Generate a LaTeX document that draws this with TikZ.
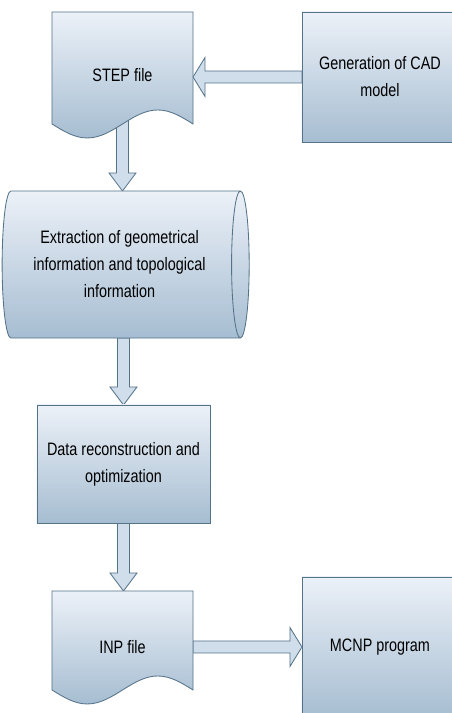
\documentclass[tikz,border=0pt]{standalone}
\usepackage{fontspec}
\setmainfont{Liberation Sans}[FakeStretch=0.8]
\usetikzlibrary{shapes.geometric}
\usetikzlibrary{calc}
\usetikzlibrary{backgrounds}
\definecolor{boxtop}{RGB}{236,241,248}
\definecolor{boxbottom}{RGB}{166,189,209}
\definecolor{boxline}{RGB}{84,114,136}
\definecolor{arrowfill}{RGB}{208,222,235}

% hollow block arrows: from #1 down to #2
\newcommand{\downflow}[2]{%
  \draw[flowarrow] ($(#1)+(-6,0)$) -- ($(#2)+(-6,18)$) -- ($(#2)+(-13.5,18)$) -- (#2)
    -- ($(#2)+(13.5,18)$) -- ($(#2)+(6,18)$) -- ($(#1)+(6,0)$) -- cycle;}
% sideways, #3 = 1 (to the right) or -1 (to the left)
\newcommand{\sideflow}[3]{%
  \draw[flowarrow] ($(#1)+(0,6)$) -- ($(#2)+(#3*-12,6)$) -- ($(#2)+(#3*-12,19.5)$) -- (#2)
    -- ($(#2)+(#3*-12,-19.5)$) -- ($(#2)+(#3*-12,-6)$) -- ($(#1)+(0,-6)$) -- cycle;}
% document sheet round node #1, wavy lower edge #2 below its top
\newcommand{\docsheet}[2]{%
  \draw[flowbox] ($(#1.north west)+(0,-#2)$) -- (#1.north west) -- (#1.north east)
    -- ($(#1.north east)+(0,-#2)$) sin ++(-35.25,14) cos ++(-35.25,-14)
    sin ++(-35.25,-14) cos ++(-35.25,14) -- cycle;}

\begin{document}
\begin{tikzpicture}
			[x=0.025cm, y=0.025cm,
			every node/.style={font=\fontsize{12.8}{19.2}\selectfont, align=center, text=black},
			flowbox/.style={draw=boxline, line width=0.6pt, top color=boxtop, bottom color=boxbottom, outer sep=0pt},
			filebox/.style={rectangle, outer sep=0pt, minimum width=3.525cm},
			flowarrow/.style={draw=boxline, line width=0.6pt, fill=arrowfill, line join=miter}]
			\useasboundingbox (0,0) rectangle (452,713);
			% left column
			\node[filebox, minimum height=3.15cm] (step) at (122.5,638) {STEP file};
			\node[flowbox, cylinder, shape aspect=0.23, minimum height=6.175cm, minimum width=3.675cm]
				(extract) at (119.5,448.5) {Extraction of geometrical\\information and topological\\information};
			\node[flowbox, rectangle, minimum width=4.325cm, minimum height=2.95cm]
				(data) at (123.5,249) {Data reconstruction and\\optimization};
			\node[filebox, minimum height=2.8cm] (inp) at (122.5,66) {INP file};
			% right column
			\node[flowbox, rectangle, minimum width=3.9cm, minimum height=3.25cm]
				(cad) at (380,636) {Generation of CAD\\model};
			\node[flowbox, rectangle, minimum width=3.9cm, minimum height=3.5cm]
				(mcnp) at (380,66) {MCNP program};
			% arrows
			\coordinate (a1) at (extract.north -| step.center);
			\coordinate (a2) at (extract.south -| data.north);
			\coordinate (a3) at (inp.north -| data.south);
			\coordinate (a4) at (step.east |- cad.west);
			\coordinate (a5) at (inp.east |- mcnp.west);
			\begin{scope}[on background layer]
				\downflow{step.center}{a1}
				\downflow{a2}{data.north}
				\downflow{data.south}{a3}
				\sideflow{cad.west}{a4}{-1}
				\sideflow{a5}{mcnp.west}{1}
				\docsheet{step}{112}
				\docsheet{inp}{99}
			\end{scope}
\end{tikzpicture}
\end{document}
